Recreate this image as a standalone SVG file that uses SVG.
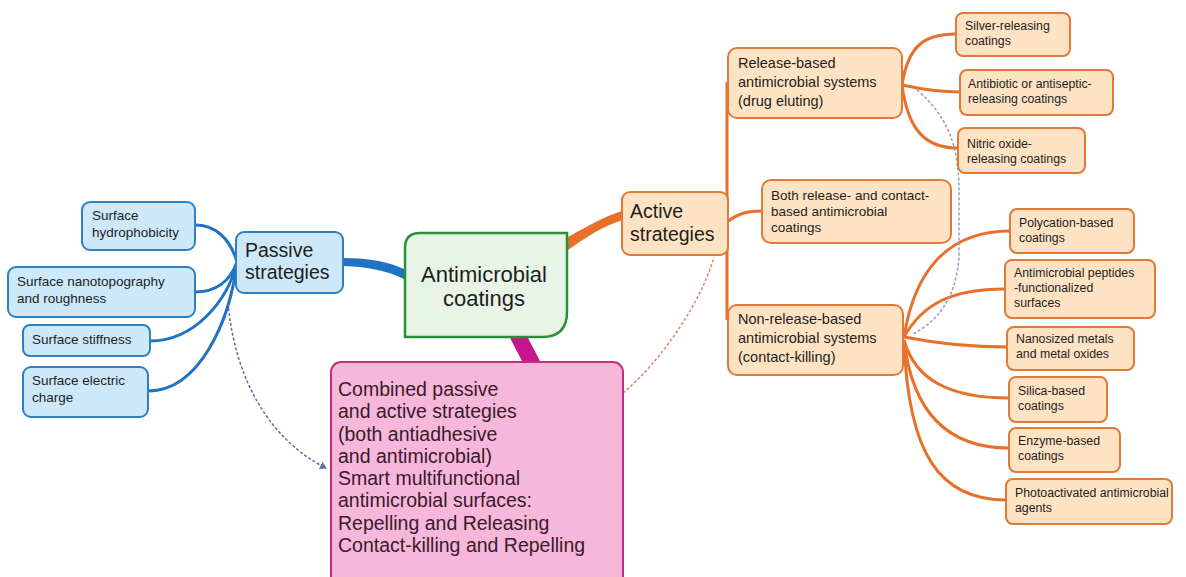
<svg xmlns="http://www.w3.org/2000/svg" width="1186" height="577" viewBox="0 0 1186 577">
<style>
text{font-family:"Liberation Sans",Arial,sans-serif;fill:#1e1e1e}
.blue{fill:#cde8f8;stroke:#2f7fc4;stroke-width:2}
.org{fill:#fde3c3;stroke:#e07a38;stroke-width:2}
.bc{fill:none;stroke:#1f72c4;stroke-width:3}
.oc{fill:none;stroke:#e8702a;stroke-width:3}
.s{font-size:13.5px}
.m{font-size:14.5px}
.xs{font-size:12.3px}
.l{font-size:19.5px}
.p{fill:#3a1a2a}
</style>
<defs>
<marker id="arr" markerWidth="8" markerHeight="8" refX="6" refY="4" orient="auto" markerUnits="userSpaceOnUse">
<path d="M0,0 L7,4 L0,8 z" fill="#5a6fa8"/>
</marker>
</defs>
<rect width="1186" height="577" fill="#ffffff"/>
<g id="connectors">
<path class="bc" d="M195 225 C215 225 230 238 237 262"/>
<path class="bc" d="M195 292 C215 292 230 282 237 262"/>
<path class="bc" d="M150 341 C195 341 228 300 237 262"/>
<path class="bc" d="M148 391 C200 391 230 320 237 262"/>
<path d="M343 258 C370 258 390 262 406 270 L404 279 C388 271 370 267 343 266 z" fill="#1f72c4"/>
<path d="M566 238 C585 228 600 218 622 211 L623 220 C603 226 588 236 568 250 z" fill="#e8702a"/>
<polygon points="509,336 527,336 541,363 523,363" fill="#c8158e"/>
<path class="oc" d="M727 82 L727 320"/>
<path class="oc" d="M727 222 C740 212 750 211 762 211"/>
<path class="oc" d="M902 85 C908 45 925 34 956 34"/>
<path class="oc" d="M902 85 C925 90 940 92 960 92"/>
<path class="oc" d="M902 85 C908 130 925 148 958 148"/>
<path class="oc" d="M904 337 C915 268 950 231 1010 231"/>
<path class="oc" d="M904 337 C922 305 950 289 1005 289"/>
<path class="oc" d="M904 337 C940 344 970 347 1007 347"/>
<path class="oc" d="M904 340 C915 380 950 398 1009 398"/>
<path class="oc" d="M904 340 C912 410 945 448 1009 448"/>
<path class="oc" d="M904 340 C908 455 940 500 1006 500"/>
<path d="M228 303 C235 380 270 440 326 468" fill="none" stroke="#5a6fa8" stroke-width="1.5" stroke-dasharray="3,2" marker-end="url(#arr)"/>
<path d="M623 393 C660 362 700 305 714 257" fill="none" stroke="#d98a60" stroke-width="1.5" stroke-dasharray="3,2"/>
<path d="M917 90 C950 118 960 150 959 200 L959 255 C957 295 940 320 913 334" fill="none" stroke="#9a9ab8" stroke-width="1.5" stroke-dasharray="3,2"/>
</g>
<g id="hydro"><rect class="blue" x="82" y="202" width="113" height="48" rx="8"/><text class="s" x="92" y="220">Surface</text><text class="s" x="92" y="237">hydrophobicity</text></g>
<g id="nano"><rect class="blue" x="8" y="267" width="187" height="50" rx="8"/><text class="s" x="17" y="286">Surface nanotopography</text><text class="s" x="17" y="303">and roughness</text></g>
<g id="stiff"><rect class="blue" x="23" y="325" width="127" height="31" rx="7"/><text class="s" x="32" y="344">Surface stiffness</text></g>
<g id="charge"><rect class="blue" x="23" y="367" width="125" height="50" rx="8"/><text class="s" x="32" y="385">Surface electric</text><text class="s" x="32" y="402">charge</text></g>
<g id="passive"><rect class="blue" x="236" y="232" width="107" height="61" rx="8"/><text class="l" x="245" y="257">Passive</text><text class="l" x="245" y="279">strategies</text></g>
<g id="center"><path d="M420 233 L567 233 L567 312 Q567 337 542 337 L405 337 L405 248 Q405 233 420 233 z" fill="#e8f5e6" stroke="#2a8f3a" stroke-width="2.5"/><text x="484" y="282" font-size="22" text-anchor="middle">Antimicrobial</text><text x="484" y="306" font-size="22" text-anchor="middle">coatings</text></g>
<g id="combined"><rect x="331" y="362" width="292" height="230" rx="10" fill="#f6b7da" stroke="#c1307e" stroke-width="2"/>
<text class="l p" x="338" y="396">Combined passive</text>
<text class="l p" x="338" y="418">and active strategies</text>
<text class="l p" x="338" y="441">(both antiadhesive</text>
<text class="l p" x="338" y="463">and antimicrobial)</text>
<text class="l p" x="338" y="485">Smart multifunctional</text>
<text class="l p" x="338" y="507">antimicrobial surfaces:</text>
<text class="l p" x="338" y="530">Repelling and Releasing</text>
<text class="l p" x="338" y="552">Contact-killing and Repelling</text></g>
<g id="active"><rect class="org" x="622" y="192" width="106" height="63" rx="8"/><text class="l" x="630" y="218">Active</text><text class="l" x="630" y="241">strategies</text></g>
<g id="release"><rect class="org" x="728" y="48" width="174" height="70" rx="9"/><text class="m" x="738" y="68">Release-based</text><text class="m" x="738" y="87">antimicrobial systems</text><text class="m" x="738" y="106">(drug eluting)</text></g>
<g id="both"><rect class="org" x="762" y="180" width="189" height="63" rx="9"/><text class="s" x="771" y="200">Both release- and contact-</text><text class="s" x="771" y="216">based antimicrobial</text><text class="s" x="771" y="232">coatings</text></g>
<g id="nonrelease"><rect class="org" x="728" y="305" width="175" height="70" rx="9"/><text class="m" x="738" y="324">Non-release-based</text><text class="m" x="738" y="343">antimicrobial systems</text><text class="m" x="738" y="362">(contact-killing)</text></g>
<g id="silver"><rect class="org" x="956" y="13" width="114" height="43" rx="7"/><text class="xs" x="965" y="30">Silver-releasing</text><text class="xs" x="965" y="45">coatings</text></g>
<g id="antibiotic"><rect class="org" x="960" y="70" width="153" height="45" rx="7"/><text class="xs" x="968" y="88">Antibiotic or antiseptic-</text><text class="xs" x="968" y="103">releasing coatings</text></g>
<g id="nitric"><rect class="org" x="958" y="128" width="127" height="45" rx="7"/><text class="xs" x="967" y="148">Nitric oxide-</text><text class="xs" x="967" y="163">releasing coatings</text></g>
<g id="polycation"><rect class="org" x="1010" y="209" width="124" height="44" rx="7"/><text class="xs" x="1019" y="227">Polycation-based</text><text class="xs" x="1019" y="242">coatings</text></g>
<g id="peptides"><rect class="org" x="1005" y="260" width="150" height="58" rx="7"/><text class="xs" x="1014" y="277">Antimicrobial peptides</text><text class="xs" x="1014" y="292">-functionalized</text><text class="xs" x="1014" y="307">surfaces</text></g>
<g id="nanosized"><rect class="org" x="1007" y="327" width="127" height="43" rx="7"/><text class="xs" x="1016" y="343">Nanosized metals</text><text class="xs" x="1016" y="358">and metal oxides</text></g>
<g id="silica"><rect class="org" x="1009" y="377" width="98" height="45" rx="7"/><text class="xs" x="1018" y="395">Silica-based</text><text class="xs" x="1018" y="410">coatings</text></g>
<g id="enzyme"><rect class="org" x="1009" y="428" width="111" height="44" rx="7"/><text class="xs" x="1018" y="445">Enzyme-based</text><text class="xs" x="1018" y="460">coatings</text></g>
<g id="photo"><rect class="org" x="1006" y="479" width="166" height="45" rx="7"/><text class="xs" x="1015" y="497">Photoactivated antimicrobial</text><text class="xs" x="1015" y="512">agents</text></g>
</svg>
